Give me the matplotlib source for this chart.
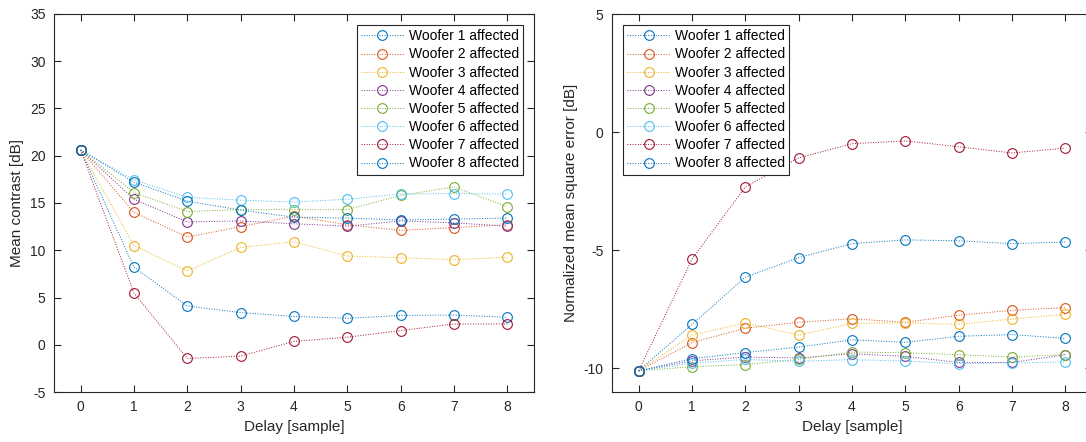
import matplotlib
matplotlib.use("Agg")
import matplotlib.pyplot as plt

plt.rcParams['font.family'] = ['Liberation Sans', 'DejaVu Sans']
plt.rcParams['axes.unicode_minus'] = False

delay = [0, 1, 2, 3, 4, 5, 6, 7, 8]
labels = ["Woofer %d affected" % i for i in range(1, 9)]

# mean contrast [dB]
contrast_w1 = [20.6, 8.2, 4.1, 3.4, 3.0, 2.8, 3.1, 3.15, 2.9]
contrast_w2 = [20.6, 14.0, 11.4, 12.5, 13.6, 12.7, 12.1, 12.4, 12.7]
contrast_w3 = [20.6, 10.5, 7.8, 10.3, 10.9, 9.4, 9.2, 9.0, 9.25]
contrast_w4 = [20.6, 15.4, 13.0, 13.1, 12.8, 12.55, 13.1, 12.9, 12.55]
contrast_w5 = [20.6, 16.1, 14.1, 14.3, 14.3, 14.3, 15.8, 16.7, 14.6]
contrast_w6 = [20.6, 17.45, 15.6, 15.3, 15.1, 15.4, 15.95, 16.0, 15.95]
contrast_w7 = [20.6, 5.45, -1.45, -1.2, 0.35, 0.8, 1.5, 2.2, 2.2]
contrast_w8 = [20.6, 17.2, 15.2, 14.25, 13.5, 13.4, 13.2, 13.3, 13.4]

# normalized mean square error [dB]
nmse_w1 = [-10.1, -8.14, -6.14, -5.31, -4.72, -4.56, -4.6, -4.72, -4.65]
nmse_w2 = [-10.1, -8.91, -8.3, -8.05, -7.9, -8.05, -7.75, -7.54, -7.43]
nmse_w3 = [-10.1, -8.59, -8.08, -8.59, -8.1, -8.07, -8.14, -7.91, -7.71]
nmse_w4 = [-10.1, -9.68, -9.52, -9.56, -9.38, -9.49, -9.75, -9.75, -9.42]
nmse_w5 = [-10.1, -9.93, -9.84, -9.62, -9.31, -9.34, -9.42, -9.52, -9.42]
nmse_w6 = [-10.1, -9.78, -9.62, -9.7, -9.63, -9.69, -9.8, -9.77, -9.73]
nmse_w7 = [-10.1, -5.37, -2.32, -1.09, -0.49, -0.37, -0.62, -0.88, -0.68]
nmse_w8 = [-10.1, -9.59, -9.33, -9.1, -8.79, -8.9, -8.64, -8.57, -8.73]

colors = ['#0072BD', '#D95319', '#EDB120', '#7E2F8E',
          '#77AC30', '#4DBEEE', '#A2142F', '#0072BD']

contrast = [contrast_w1, contrast_w2, contrast_w3, contrast_w4,
            contrast_w5, contrast_w6, contrast_w7, contrast_w8]
nmse = [nmse_w1, nmse_w2, nmse_w3, nmse_w4, nmse_w5, nmse_w6, nmse_w7, nmse_w8]

dark = '#262626'

fig = plt.figure(figsize=(10.86, 4.42), dpi=100)
ax1 = fig.add_axes([54 / 1086, 50 / 442, 480 / 1086, 378 / 442])
ax2 = fig.add_axes([612 / 1086, 50 / 442, 480 / 1086, 378 / 442])


def draw(ax, series, ylabel, ylim, yticks, loc):
    for s, c, lab in zip(series, colors, labels):
        ax.plot(delay, s, linestyle=':', linewidth=0.7, color=c,
                marker='o', markersize=7, markerfacecolor='none',
                markeredgewidth=0.8, label=lab)
    ax.set_xlim(-0.5, 8.5)
    ax.set_ylim(*ylim)
    ax.set_xticks(delay)
    ax.set_yticks(yticks)
    ax.set_xlabel("Delay [sample]", fontsize=11, color=dark)
    ax.set_ylabel(ylabel, fontsize=11, color=dark)
    ax.tick_params(direction='in', top=True, right=True, length=5,
                   width=0.8, labelsize=10, colors=dark, pad=6)
    for sp in ax.spines.values():
        sp.set_color(dark)
        sp.set_linewidth(0.8)
    leg = ax.legend(loc=loc, fontsize=10, fancybox=False, framealpha=1,
                    edgecolor=dark, handlelength=3.1, handletextpad=0.35,
                    labelspacing=0.3, borderpad=0.3, borderaxespad=0.8)
    leg.get_frame().set_linewidth(0.8)


draw(ax1, contrast, "Mean contrast [dB]", (-5, 35), range(-5, 36, 5), 'upper right')
draw(ax2, nmse, "Normalized mean square error [dB]", (-11, 5), [-10, -5, 0, 5], 'upper left')

fig.savefig("out.png", dpi=100)
